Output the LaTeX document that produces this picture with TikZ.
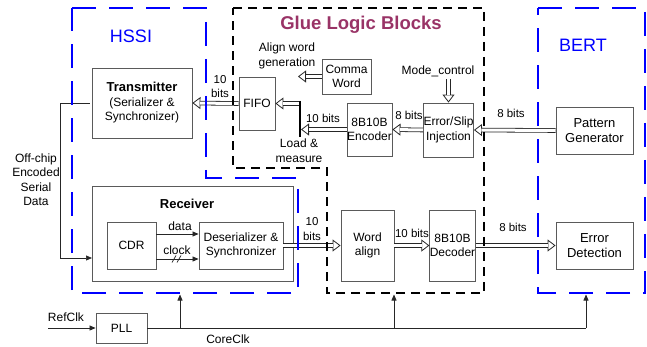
\documentclass[tikz,border=0pt]{standalone}
\usepackage{fontspec}
\setmainfont{Liberation Sans}
\usetikzlibrary{arrows.meta,calc}
\definecolor{gluecol}{RGB}{153,51,102}
\definecolor{boxgray}{RGB}{90,90,90}
\newcommand\hollowarrow[2]{\draw[hhead] (#1) -- (#2); \draw[hshaft] (#1) -- (#2);}
\begin{document}
\begin{tikzpicture}[x=1pt,y=-1pt,
 box/.style={draw=boxgray, line width=0.9pt, inner sep=0pt, align=center, font=\fontsize{12}{14.5}\selectfont},
 lbl/.style={inner sep=0pt, align=center, font=\fontsize{11.5}{14.5}\selectfont},
 hhead/.style={line width=0.8pt, draw=black!85, -{Triangle[open,length=8pt,width=12pt]}},
 hshaft/.style={line width=0.8pt, draw=black!85, double=white, double distance=3pt, shorten >=7.5pt},
 tarrow/.style={line width=0.7pt, draw=black!85, -{Triangle[length=6pt,width=5pt]}},
 tline/.style={line width=0.7pt, draw=black!85},
 bluereg/.style={draw=blue, line width=2.5pt, dash pattern=on 24pt off 13pt},
 blackreg/.style={draw=black, line width=2.2pt, dash pattern=on 9pt off 6pt},
]
\useasboundingbox (0,0) rectangle (647,347);

% titles
\node[text=blue, font=\fontsize{18}{20}\selectfont] (hssit) at (131,36) {HSSI};
\node[text=gluecol, font=\bfseries\fontsize{18.5}{20}\selectfont] (gluet) at (361,25) {Glue Logic Blocks};
\node[text=blue, font=\fontsize{18}{20}\selectfont] (bertt) at (583,45) {BERT};

% boxes
\node[box, minimum width=100pt, minimum height=70pt] (tx) at (142,103)
  {{\bfseries\fontsize{13}{14.5}\selectfont Transmitter}\\(Serializer \&\\Synchronizer)};
\node[box, minimum width=36pt, minimum height=53pt] (fifo) at (257,103.5) {FIFO};
\node[box, minimum width=49pt, minimum height=35pt] (comma) at (346.5,76.5) {Comma\\Word};
\node[box, minimum width=49pt, minimum height=54pt] (err) at (448.5,130) {Error/Slip\\Injection};
\node[box, minimum width=45pt, minimum height=53pt] (enc) at (369.5,129.5) {8B10B\\Encoder};
\node[box, minimum width=77pt, minimum height=47pt, font=\fontsize{13}{14.5}\selectfont] (pat) at (594.5,130.5) {Pattern\\Generator};
\node[box, minimum width=201pt, minimum height=95pt] (rx) at (192.5,233.5) {};
\node[font=\bfseries\fontsize{13}{14.5}\selectfont] (rxt) at (187,204) {Receiver};
\node[box, minimum width=49pt, minimum height=47pt] (cdr) at (131.5,245.5) {CDR};
\node[box, minimum width=84pt, minimum height=47pt] (des) at (241,245.5) {Deserializer \&\\Synchronizer};
\node[box, minimum width=53pt, minimum height=71pt] (wa) at (367.5,245.5) {Word\\align};
\node[box, minimum width=45pt, minimum height=71pt] (dec) at (452.5,245.5) {8B10B\\Decoder};
\node[box, minimum width=77pt, minimum height=47pt, font=\fontsize{13}{14.5}\selectfont] (ed) at (594.5,245.5) {Error\\Detection};
\node[box, minimum width=51pt, minimum height=30pt] (pll) at (121.5,328) {PLL};

% free labels
\node[lbl, font=\fontsize{12}{14.5}\selectfont] (alignt) at (287,56) {Align word\\generation};
\node[lbl, font=\fontsize{12}{14.5}\selectfont] (modet) at (438,71) {Mode\_control};
\node[lbl, font=\fontsize{12}{14.5}\selectfont] (loadt) at (299,150.5) {Load \&\\measure};
\node[lbl, font=\fontsize{12}{14.5}\selectfont] (offt) at (36,179.5) {Off-chip\\Encoded\\Serial\\Data};
\node[lbl] (b1) at (220,86.5) {10\\bits};
\node[lbl] (b2) at (323,118) {10 bits};
\node[lbl] (b3) at (409,115) {8 bits};
\node[lbl] (b4) at (511,113) {8 bits};
\node[lbl] (b5) at (312,229) {10\\bits};
\node[lbl] (b6) at (412,233) {10 bits};
\node[lbl] (b7) at (513,227) {8 bits};
\node[lbl, font=\fontsize{12}{14.5}\selectfont] (datat) at (180,226) {data};
\node[lbl, font=\fontsize{12}{14.5}\selectfont] (clockt) at (177,250) {clock};
\node[lbl, font=\fontsize{12}{14.5}\selectfont] (refclkt) at (66,317) {RefClk};
\node[lbl, font=\fontsize{12}{14.5}\selectfont] (coreclkt) at (228,339) {CoreClk};

% coordinates
\coordinate (bartop) at (300,101);
\coordinate (barbot) at (300,137);
\coordinate (barin) at (301,129.5);
\coordinate (fifoout) at (300,103.5);
\coordinate (alignin) at (298,76.5);
\coordinate (modeout) at (448.5,79);
\coordinate (rxin) at (92,258);
\coordinate (refin) at (48,328);
\coordinate (clkend) at (586,328);
\coordinate (c1) at (180,328);
\coordinate (c2) at (394,328);
\coordinate (h1) at (180,294.5);
\coordinate (h2) at (394,294.5);
\coordinate (h3) at (586,294.5);

% hollow arrows
\hollowarrow{fifo.west}{tx.east}
\hollowarrow{comma.west}{alignin}
\hollowarrow{fifoout}{fifo.east}
\hollowarrow{enc.west}{barin}
\hollowarrow{err.west}{enc.east}
\hollowarrow{pat.west}{err.east}
\hollowarrow{modeout}{err.north}
\hollowarrow{des.east}{wa.west}
\hollowarrow{wa.east}{dec.west}
\hollowarrow{dec.east}{ed.west}
\draw[line width=2.2pt] (bartop) -- (barbot);

% thin arrows
\draw[tarrow] ([yshift=11.5pt]cdr.east) -- ([yshift=11.5pt]des.west);
\draw[tarrow] ([yshift=-13.5pt]cdr.east) -- ([yshift=-13.5pt]des.west);
\coordinate (sl) at (177,259);
\draw[tline] ($(sl)+(-5,3.5)$) -- ($(sl)+(-1,-3.5)$);
\draw[tline] ($(sl)+(0,3.5)$) -- ($(sl)+(4,-3.5)$);
\draw[tarrow] ([xshift=-2pt]tx.west) -- ++(-29,0) |- (rxin);
\draw[tarrow] (refin) -- (pll.west);
\draw[tline] (pll.east) -- (clkend);
\draw[tarrow] (c1) -- (h1);
\draw[tarrow] (c2) -- (h2);
\draw[tarrow] (clkend) -- (h3);

% regions (on top)
\draw[bluereg] (72,8) -- (206,8) -- (206,178) -- (298,178) -- (298,293) -- (72,293) -- cycle;
\draw[blackreg] (233,8) -- (484,8) -- (484,293) -- (327,293) -- (327,168) -- (233,168) -- cycle;
\draw[bluereg] (538,8) -- (645,8) -- (645,293) -- (538,293) -- cycle;
\end{tikzpicture}
\end{document}
